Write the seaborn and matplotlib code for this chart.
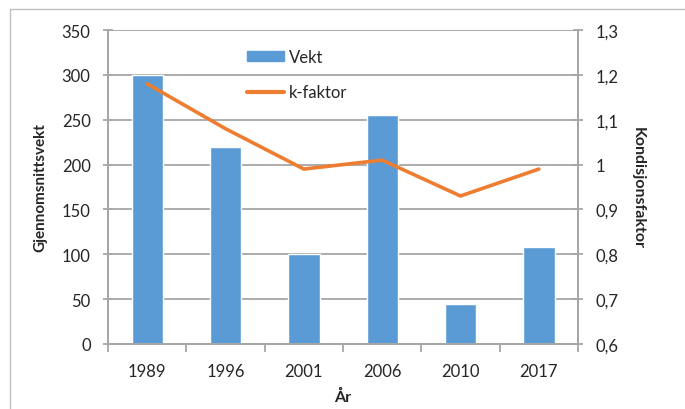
import numpy as np
import pandas as pd
import seaborn as sns
import matplotlib.pyplot as plt
from matplotlib.patches import Rectangle
from matplotlib.lines import Line2D
from matplotlib.ticker import FixedLocator, FuncFormatter

# data
years = ["1989", "1996", "2001", "2006", "2010", "2017"]
vekt = [300, 220, 100, 255, 45, 108]
k_faktor = [1.18, 1.08, 0.99, 1.01, 0.93, 0.99]

BLUE = "#5B9BD5"
ORANGE = "#ED7D31"
GRID = "#A6A6A6"

sns.set_theme(style="white")
plt.rcParams["font.family"] = ["Lato", "DejaVu Sans"]

df = pd.DataFrame({"year": years, "vekt": vekt, "k": k_faktor})

fig = plt.figure(figsize=(6.85, 4.10), dpi=100)
ax = fig.add_axes([108 / 685, 65 / 410, 470 / 685, 314 / 410])

# light frame around the chart area
fig.patches.append(Rectangle((10 / 685, -0.05), 1.1, (400 / 410) + 0.05,
                             transform=fig.transFigure, fill=False,
                             edgecolor="#BFBFBF", linewidth=1.0))

sns.barplot(data=df, x="year", y="vekt", color=BLUE, width=0.4,
            saturation=1, ax=ax)
ax.set_ylim(0, 350)
ax.set_yticks(range(0, 351, 50))
ax.set_xlim(-0.5, len(years) - 0.5)
ax.yaxis.grid(True, color=GRID, linewidth=1.3)
ax.set_axisbelow(True)

ax2 = ax.twinx()
sns.lineplot(x=np.arange(len(years)), y=df["k"], color=ORANGE,
             linewidth=2.6, ax=ax2)
ax2.set_ylim(0.6, 1.3)
ax2.set_yticks(np.round(np.arange(0.6, 1.31, 0.1), 1))
ax2.yaxis.set_major_formatter(
    FuncFormatter(lambda v, p: f"{v:g}".replace(".", ",")))

for a in (ax, ax2):
    a.spines["top"].set_visible(False)
    for side in ("left", "right", "bottom"):
        a.spines[side].set_color(GRID)
        a.spines[side].set_linewidth(1.3)

ax.tick_params(axis="y", direction="inout", length=7, color=GRID, width=1.3,
               labelsize=12, pad=9, left=True)
ax2.tick_params(axis="y", direction="inout", length=7, color=GRID, width=1.3,
                labelsize=12, pad=9, right=True)
ax.tick_params(axis="x", which="major", length=0, labelsize=12, pad=14)
ax.xaxis.set_minor_locator(FixedLocator(np.arange(-0.5, len(years), 1.0)))
ax.tick_params(axis="x", which="minor", length=6, color=GRID, width=1.3,
               bottom=True)

ax.set_xlabel("År", fontsize=11.5, fontweight="bold", labelpad=7)
ax.set_ylabel("Gjennomsnittsvekt", fontsize=11, fontweight="bold",
              labelpad=10)
ax2.set_ylabel("Kondisjonsfaktor", fontsize=11.5, fontweight="bold",
               rotation=270, va="bottom", labelpad=9)

handles = [Rectangle((0, 0), 1, 1, color=BLUE),
           Line2D([], [], color=ORANGE, linewidth=3)]
ax2.legend(handles, ["Vekt", "k-faktor"], loc="upper left",
           bbox_to_anchor=(0.264, 0.987), frameon=False, fontsize=12,
           handlelength=2.2, handleheight=0.6, labelspacing=1.15,
           handletextpad=0.3)

fig.savefig("out.png", dpi=100)
